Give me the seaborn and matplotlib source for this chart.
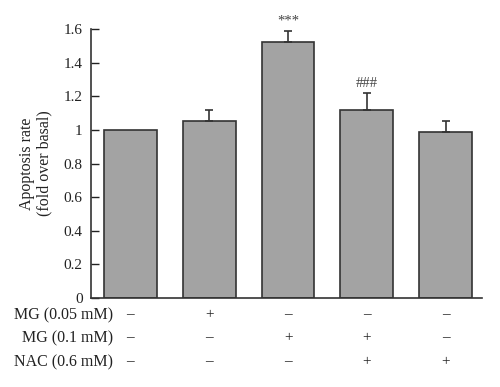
import matplotlib
matplotlib.use("Agg")
import matplotlib.pyplot as plt
import matplotlib.transforms as mtransforms
import pandas as pd
import seaborn as sns

# datos
grupos = ["G1", "G2", "G3", "G4", "G5"]
valores = [1.00, 1.05, 1.52, 1.12, 0.99]
errores = [0.00, 0.07, 0.07, 0.10, 0.06]
marcas = ["", "", "***", "###", ""]

filas = ["MG (0.05 mM)", "MG (0.1 mM)", "NAC (0.6 mM)"]
signos = [
    ["–", "+", "–", "–", "–"],
    ["–", "–", "+", "+", "–"],
    ["–", "–", "–", "+", "+"],
]

df = pd.DataFrame({"grupo": grupos, "valor": valores, "error": errores})

sns.set_style("ticks")
plt.rcParams["font.family"] = ["Liberation Serif", "DejaVu Serif"]

fig = plt.figure(figsize=(5, 3.87), dpi=100)
ax = fig.add_axes([0.182, 0.230, 0.782, 0.695])

sns.barplot(data=df, x="grupo", y="valor", color="#a3a3a3", saturation=1,
            width=0.67, edgecolor="#333333", linewidth=1.2, ax=ax)

# solo barras con error (la primera es el basal)
idx = [i for i, e in enumerate(errores) if e > 0]
ax.errorbar(idx, [valores[i] for i in idx],
            yerr=[[0] * len(idx), [errores[i] for i in idx]],
            fmt="none", ecolor="#333333", elinewidth=1.2, capsize=3, capthick=1.2)

for i, m in enumerate(marcas):
    if m:
        ax.text(i, valores[i] + errores[i] + 0.02, m, ha="center", va="bottom",
                fontsize=10.5, color="#444444", clip_on=False)

ax.set_xlim(-0.5, 4.46)
ax.set_ylim(0, 1.6)
ax.set_yticks([0, 0.2, 0.4, 0.6, 0.8, 1.0, 1.2, 1.4, 1.6])
ax.set_yticklabels(["0", "0.2", "0.4", "0.6", "0.8", "1", "1.2", "1.4", "1.6"])
ax.tick_params(axis="y", direction="in", length=6, width=1, labelsize=11,
               colors="#222222", pad=6)
ax.tick_params(axis="x", bottom=False, labelbottom=False)
ax.set_xlabel("")
ax.set_ylabel("Apoptosis rate\n(fold over basal)", fontsize=11.5, color="#222222",
              labelpad=8, linespacing=1.1)
sns.despine(ax=ax)
for s in ["left", "bottom"]:
    ax.spines[s].set_color("#333333")
    ax.spines[s].set_linewidth(1.2)

# tabla de tratamientos debajo del eje
trans = mtransforms.blended_transform_factory(ax.transData, fig.transFigure)
filas_y = [1 - 315 / 387, 1 - 338 / 387, 1 - 362 / 387]
for r, nombre in enumerate(filas):
    fig.text(0.226, filas_y[r], nombre, ha="right", va="center",
             fontsize=11.5, color="#222222")
    for i, s in enumerate(signos[r]):
        ax.text(i, filas_y[r], s, transform=trans, ha="center", va="center",
                fontsize=11, color="#222222")

fig.savefig("out.png", dpi=100, facecolor="white")
